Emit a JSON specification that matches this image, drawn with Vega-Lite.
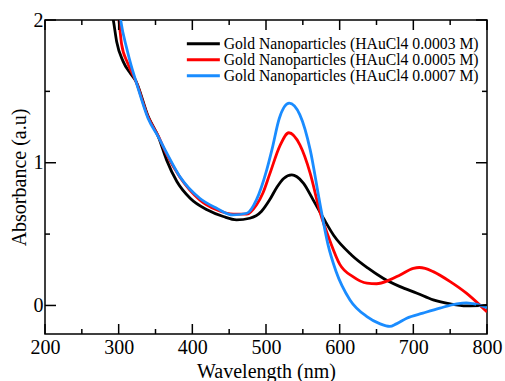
{
  "$schema": "https://vega.github.io/schema/vega-lite/v6.json",
  "width": 442,
  "height": 314,
  "autosize": {"type": "none"},
  "padding": {"left": 45, "top": 20, "right": 18, "bottom": 47},
  "datasets": {
    "xmajor": [{"v": 200}, {"v": 300}, {"v": 400}, {"v": 500}, {"v": 600}, {"v": 700}, {"v": 800}],
    "xminor": [{"v": 250}, {"v": 350}, {"v": 450}, {"v": 550}, {"v": 650}, {"v": 750}],
    "ymajor": [{"v": 0}, {"v": 1}, {"v": 2}],
    "yminor": [{"v": 0.5}, {"v": 1.5}],
    "spectra": [
    {"series": "Gold Nanoparticles (HAuCl4 0.0003 M)", "wl": 286, "abs": 2.15},
    {"series": "Gold Nanoparticles (HAuCl4 0.0003 M)", "wl": 292.7, "abs": 2.0},
    {"series": "Gold Nanoparticles (HAuCl4 0.0003 M)", "wl": 297.3, "abs": 1.848},
    {"series": "Gold Nanoparticles (HAuCl4 0.0003 M)", "wl": 306, "abs": 1.71},
    {"series": "Gold Nanoparticles (HAuCl4 0.0003 M)", "wl": 316, "abs": 1.625},
    {"series": "Gold Nanoparticles (HAuCl4 0.0003 M)", "wl": 323.5, "abs": 1.57},
    {"series": "Gold Nanoparticles (HAuCl4 0.0003 M)", "wl": 340, "abs": 1.325},
    {"series": "Gold Nanoparticles (HAuCl4 0.0003 M)", "wl": 354, "abs": 1.18},
    {"series": "Gold Nanoparticles (HAuCl4 0.0003 M)", "wl": 365, "abs": 1.02},
    {"series": "Gold Nanoparticles (HAuCl4 0.0003 M)", "wl": 379, "abs": 0.868},
    {"series": "Gold Nanoparticles (HAuCl4 0.0003 M)", "wl": 397, "abs": 0.751},
    {"series": "Gold Nanoparticles (HAuCl4 0.0003 M)", "wl": 420, "abs": 0.67},
    {"series": "Gold Nanoparticles (HAuCl4 0.0003 M)", "wl": 442, "abs": 0.623},
    {"series": "Gold Nanoparticles (HAuCl4 0.0003 M)", "wl": 460, "abs": 0.60},
    {"series": "Gold Nanoparticles (HAuCl4 0.0003 M)", "wl": 478, "abs": 0.611},
    {"series": "Gold Nanoparticles (HAuCl4 0.0003 M)", "wl": 494, "abs": 0.66},
    {"series": "Gold Nanoparticles (HAuCl4 0.0003 M)", "wl": 505, "abs": 0.74},
    {"series": "Gold Nanoparticles (HAuCl4 0.0003 M)", "wl": 515, "abs": 0.83},
    {"series": "Gold Nanoparticles (HAuCl4 0.0003 M)", "wl": 524, "abs": 0.89},
    {"series": "Gold Nanoparticles (HAuCl4 0.0003 M)", "wl": 535, "abs": 0.915},
    {"series": "Gold Nanoparticles (HAuCl4 0.0003 M)", "wl": 542, "abs": 0.902},
    {"series": "Gold Nanoparticles (HAuCl4 0.0003 M)", "wl": 551, "abs": 0.856},
    {"series": "Gold Nanoparticles (HAuCl4 0.0003 M)", "wl": 564, "abs": 0.74},
    {"series": "Gold Nanoparticles (HAuCl4 0.0003 M)", "wl": 578, "abs": 0.611},
    {"series": "Gold Nanoparticles (HAuCl4 0.0003 M)", "wl": 592, "abs": 0.49},
    {"series": "Gold Nanoparticles (HAuCl4 0.0003 M)", "wl": 616, "abs": 0.354},
    {"series": "Gold Nanoparticles (HAuCl4 0.0003 M)", "wl": 638, "abs": 0.263},
    {"series": "Gold Nanoparticles (HAuCl4 0.0003 M)", "wl": 659, "abs": 0.191},
    {"series": "Gold Nanoparticles (HAuCl4 0.0003 M)", "wl": 682, "abs": 0.132},
    {"series": "Gold Nanoparticles (HAuCl4 0.0003 M)", "wl": 705, "abs": 0.086},
    {"series": "Gold Nanoparticles (HAuCl4 0.0003 M)", "wl": 727, "abs": 0.039},
    {"series": "Gold Nanoparticles (HAuCl4 0.0003 M)", "wl": 750, "abs": 0.011},
    {"series": "Gold Nanoparticles (HAuCl4 0.0003 M)", "wl": 772, "abs": -0.003},
    {"series": "Gold Nanoparticles (HAuCl4 0.0003 M)", "wl": 800, "abs": 0.0},

    {"series": "Gold Nanoparticles (HAuCl4 0.0005 M)", "wl": 296, "abs": 2.2},
    {"series": "Gold Nanoparticles (HAuCl4 0.0005 M)", "wl": 300.4, "abs": 2.0},
    {"series": "Gold Nanoparticles (HAuCl4 0.0005 M)", "wl": 304, "abs": 1.83},
    {"series": "Gold Nanoparticles (HAuCl4 0.0005 M)", "wl": 312, "abs": 1.7},
    {"series": "Gold Nanoparticles (HAuCl4 0.0005 M)", "wl": 323.5, "abs": 1.57},
    {"series": "Gold Nanoparticles (HAuCl4 0.0005 M)", "wl": 340, "abs": 1.32},
    {"series": "Gold Nanoparticles (HAuCl4 0.0005 M)", "wl": 354, "abs": 1.185},
    {"series": "Gold Nanoparticles (HAuCl4 0.0005 M)", "wl": 365, "abs": 1.06},
    {"series": "Gold Nanoparticles (HAuCl4 0.0005 M)", "wl": 383, "abs": 0.90},
    {"series": "Gold Nanoparticles (HAuCl4 0.0005 M)", "wl": 410, "abs": 0.74},
    {"series": "Gold Nanoparticles (HAuCl4 0.0005 M)", "wl": 433, "abs": 0.67},
    {"series": "Gold Nanoparticles (HAuCl4 0.0005 M)", "wl": 456, "abs": 0.64},
    {"series": "Gold Nanoparticles (HAuCl4 0.0005 M)", "wl": 474, "abs": 0.64},
    {"series": "Gold Nanoparticles (HAuCl4 0.0005 M)", "wl": 487, "abs": 0.704},
    {"series": "Gold Nanoparticles (HAuCl4 0.0005 M)", "wl": 496, "abs": 0.79},
    {"series": "Gold Nanoparticles (HAuCl4 0.0005 M)", "wl": 505, "abs": 0.92},
    {"series": "Gold Nanoparticles (HAuCl4 0.0005 M)", "wl": 519, "abs": 1.12},
    {"series": "Gold Nanoparticles (HAuCl4 0.0005 M)", "wl": 531, "abs": 1.21},
    {"series": "Gold Nanoparticles (HAuCl4 0.0005 M)", "wl": 546, "abs": 1.125},
    {"series": "Gold Nanoparticles (HAuCl4 0.0005 M)", "wl": 560, "abs": 0.926},
    {"series": "Gold Nanoparticles (HAuCl4 0.0005 M)", "wl": 573, "abs": 0.66},
    {"series": "Gold Nanoparticles (HAuCl4 0.0005 M)", "wl": 587, "abs": 0.45},
    {"series": "Gold Nanoparticles (HAuCl4 0.0005 M)", "wl": 600, "abs": 0.29},
    {"series": "Gold Nanoparticles (HAuCl4 0.0005 M)", "wl": 618, "abs": 0.202},
    {"series": "Gold Nanoparticles (HAuCl4 0.0005 M)", "wl": 637, "abs": 0.156},
    {"series": "Gold Nanoparticles (HAuCl4 0.0005 M)", "wl": 650, "abs": 0.152},
    {"series": "Gold Nanoparticles (HAuCl4 0.0005 M)", "wl": 668, "abs": 0.179},
    {"series": "Gold Nanoparticles (HAuCl4 0.0005 M)", "wl": 682, "abs": 0.214},
    {"series": "Gold Nanoparticles (HAuCl4 0.0005 M)", "wl": 700, "abs": 0.26},
    {"series": "Gold Nanoparticles (HAuCl4 0.0005 M)", "wl": 708, "abs": 0.266},
    {"series": "Gold Nanoparticles (HAuCl4 0.0005 M)", "wl": 716, "abs": 0.26},
    {"series": "Gold Nanoparticles (HAuCl4 0.0005 M)", "wl": 727, "abs": 0.237},
    {"series": "Gold Nanoparticles (HAuCl4 0.0005 M)", "wl": 750, "abs": 0.167},
    {"series": "Gold Nanoparticles (HAuCl4 0.0005 M)", "wl": 772, "abs": 0.086},
    {"series": "Gold Nanoparticles (HAuCl4 0.0005 M)", "wl": 790, "abs": 0.004},
    {"series": "Gold Nanoparticles (HAuCl4 0.0005 M)", "wl": 800, "abs": -0.045},

    {"series": "Gold Nanoparticles (HAuCl4 0.0007 M)", "wl": 298, "abs": 2.2},
    {"series": "Gold Nanoparticles (HAuCl4 0.0007 M)", "wl": 302.7, "abs": 2.0},
    {"series": "Gold Nanoparticles (HAuCl4 0.0007 M)", "wl": 311, "abs": 1.80},
    {"series": "Gold Nanoparticles (HAuCl4 0.0007 M)", "wl": 317, "abs": 1.68},
    {"series": "Gold Nanoparticles (HAuCl4 0.0007 M)", "wl": 323.5, "abs": 1.57},
    {"series": "Gold Nanoparticles (HAuCl4 0.0007 M)", "wl": 340, "abs": 1.31},
    {"series": "Gold Nanoparticles (HAuCl4 0.0007 M)", "wl": 354, "abs": 1.18},
    {"series": "Gold Nanoparticles (HAuCl4 0.0007 M)", "wl": 365, "abs": 1.07},
    {"series": "Gold Nanoparticles (HAuCl4 0.0007 M)", "wl": 383, "abs": 0.903},
    {"series": "Gold Nanoparticles (HAuCl4 0.0007 M)", "wl": 410, "abs": 0.751},
    {"series": "Gold Nanoparticles (HAuCl4 0.0007 M)", "wl": 433, "abs": 0.681},
    {"series": "Gold Nanoparticles (HAuCl4 0.0007 M)", "wl": 455, "abs": 0.634},
    {"series": "Gold Nanoparticles (HAuCl4 0.0007 M)", "wl": 474, "abs": 0.646},
    {"series": "Gold Nanoparticles (HAuCl4 0.0007 M)", "wl": 487, "abs": 0.74},
    {"series": "Gold Nanoparticles (HAuCl4 0.0007 M)", "wl": 501, "abs": 0.95},
    {"series": "Gold Nanoparticles (HAuCl4 0.0007 M)", "wl": 508, "abs": 1.09},
    {"series": "Gold Nanoparticles (HAuCl4 0.0007 M)", "wl": 518, "abs": 1.31},
    {"series": "Gold Nanoparticles (HAuCl4 0.0007 M)", "wl": 531.5, "abs": 1.417},
    {"series": "Gold Nanoparticles (HAuCl4 0.0007 M)", "wl": 546, "abs": 1.335},
    {"series": "Gold Nanoparticles (HAuCl4 0.0007 M)", "wl": 560, "abs": 1.09},
    {"series": "Gold Nanoparticles (HAuCl4 0.0007 M)", "wl": 573, "abs": 0.72},
    {"series": "Gold Nanoparticles (HAuCl4 0.0007 M)", "wl": 584, "abs": 0.43},
    {"series": "Gold Nanoparticles (HAuCl4 0.0007 M)", "wl": 595, "abs": 0.24},
    {"series": "Gold Nanoparticles (HAuCl4 0.0007 M)", "wl": 614, "abs": 0.039},
    {"series": "Gold Nanoparticles (HAuCl4 0.0007 M)", "wl": 637, "abs": -0.078},
    {"series": "Gold Nanoparticles (HAuCl4 0.0007 M)", "wl": 655, "abs": -0.129},
    {"series": "Gold Nanoparticles (HAuCl4 0.0007 M)", "wl": 668, "abs": -0.147},
    {"series": "Gold Nanoparticles (HAuCl4 0.0007 M)", "wl": 677, "abs": -0.129},
    {"series": "Gold Nanoparticles (HAuCl4 0.0007 M)", "wl": 691, "abs": -0.089},
    {"series": "Gold Nanoparticles (HAuCl4 0.0007 M)", "wl": 713, "abs": -0.054},
    {"series": "Gold Nanoparticles (HAuCl4 0.0007 M)", "wl": 736, "abs": -0.019},
    {"series": "Gold Nanoparticles (HAuCl4 0.0007 M)", "wl": 759, "abs": 0.011},
    {"series": "Gold Nanoparticles (HAuCl4 0.0007 M)", "wl": 772, "abs": 0.018},
    {"series": "Gold Nanoparticles (HAuCl4 0.0007 M)", "wl": 781, "abs": 0.012},
    {"series": "Gold Nanoparticles (HAuCl4 0.0007 M)", "wl": 800, "abs": -0.015}
    ]
  },
  "layer": [
    {
      "data": {"name": "spectra"},
      "mark": {"type": "line", "strokeWidth": 2.8, "interpolate": "monotone", "clip": true},
      "encoding": {
        "x": {
          "field": "wl", "type": "quantitative",
          "scale": {"domain": [200, 800], "nice": false, "zero": false},
          "axis": {
            "orient": "bottom",
            "values": [200, 300, 400, 500, 600, 700, 800],
            "format": "d",
            "ticks": false,
            "labelPadding": 3,
            "title": "Wavelength (nm)",
            "titlePadding": 4
          }
        },
        "y": {
          "field": "abs", "type": "quantitative",
          "scale": {"domain": [-0.2, 2], "nice": false, "zero": false},
          "axis": {
            "orient": "left",
            "values": [0, 1, 2],
            "format": "d",
            "ticks": false,
            "labelPadding": 2,
            "title": "Absorbance (a.u)",
            "titlePadding": 4
          }
        },
        "color": {
          "field": "series", "type": "nominal",
          "scale": {
            "domain": ["Gold Nanoparticles (HAuCl4 0.0003 M)", "Gold Nanoparticles (HAuCl4 0.0005 M)", "Gold Nanoparticles (HAuCl4 0.0007 M)"],
            "range": ["#000000", "#ff0000", "#1a8cff"]
          },
          "legend": {
            "orient": "none",
            "legendX": 139,
            "legendY": 16,
            "title": null,
            "padding": 0,
            "symbolType": "M-3.3,0H3.3",
            "symbolStrokeWidth": 3,
            "symbolSize": 100,
            "symbolOffset": 11.5,
            "rowPadding": -1.7,
            "labelOffset": 12.5,
            "labelFont": "Liberation Serif",
            "labelFontSize": 15.7,
            "labelColor": "black",
            "labelLimit": 400
          }
        }
      }
    },
    {
      "data": {"name": "xmajor"},
      "mark": {"type": "tick", "orient": "vertical", "color": "black", "opacity": 1, "size": 10, "thickness": 1.5, "yOffset": -5},
      "encoding": {
        "x": {"field": "v", "type": "quantitative"},
        "y": {"datum": -0.2, "type": "quantitative"}
      }
    },
    {
      "data": {"name": "xmajor"},
      "mark": {"type": "tick", "orient": "vertical", "color": "black", "opacity": 1, "size": 10, "thickness": 1.5, "yOffset": 5},
      "encoding": {
        "x": {"field": "v", "type": "quantitative"},
        "y": {"datum": 2, "type": "quantitative"}
      }
    },
    {
      "data": {"name": "xminor"},
      "mark": {"type": "tick", "orient": "vertical", "color": "black", "opacity": 1, "size": 5, "thickness": 1.5, "yOffset": -2.5},
      "encoding": {
        "x": {"field": "v", "type": "quantitative"},
        "y": {"datum": -0.2, "type": "quantitative"}
      }
    },
    {
      "data": {"name": "xminor"},
      "mark": {"type": "tick", "orient": "vertical", "color": "black", "opacity": 1, "size": 5, "thickness": 1.5, "yOffset": 2.5},
      "encoding": {
        "x": {"field": "v", "type": "quantitative"},
        "y": {"datum": 2, "type": "quantitative"}
      }
    },
    {
      "data": {"name": "ymajor"},
      "mark": {"type": "tick", "orient": "horizontal", "color": "black", "opacity": 1, "size": 11, "thickness": 1.5, "xOffset": 5.5},
      "encoding": {
        "y": {"field": "v", "type": "quantitative"},
        "x": {"datum": 200, "type": "quantitative"}
      }
    },
    {
      "data": {"name": "ymajor"},
      "mark": {"type": "tick", "orient": "horizontal", "color": "black", "opacity": 1, "size": 11, "thickness": 1.5, "xOffset": -5.5},
      "encoding": {
        "y": {"field": "v", "type": "quantitative"},
        "x": {"datum": 800, "type": "quantitative"}
      }
    },
    {
      "data": {"name": "yminor"},
      "mark": {"type": "tick", "orient": "horizontal", "color": "black", "opacity": 1, "size": 5, "thickness": 1.5, "xOffset": 2.5},
      "encoding": {
        "y": {"field": "v", "type": "quantitative"},
        "x": {"datum": 200, "type": "quantitative"}
      }
    },
    {
      "data": {"name": "yminor"},
      "mark": {"type": "tick", "orient": "horizontal", "color": "black", "opacity": 1, "size": 5, "thickness": 1.5, "xOffset": -2.5},
      "encoding": {
        "y": {"field": "v", "type": "quantitative"},
        "x": {"datum": 800, "type": "quantitative"}
      }
    }
  ],
  "config": {
    "view": {"stroke": "black", "strokeWidth": 1.5},
    "font": "Liberation Serif",
    "axis": {
      "domain": false,
      "grid": false,
      "labelFont": "Liberation Serif",
      "labelFontSize": 20,
      "labelColor": "black",
      "labelFlush": false,
      "labelOverlap": false,
      "titleFont": "Liberation Serif",
      "titleFontSize": 20,
      "titleFontWeight": "normal",
      "titleColor": "black"
    }
  }
}
